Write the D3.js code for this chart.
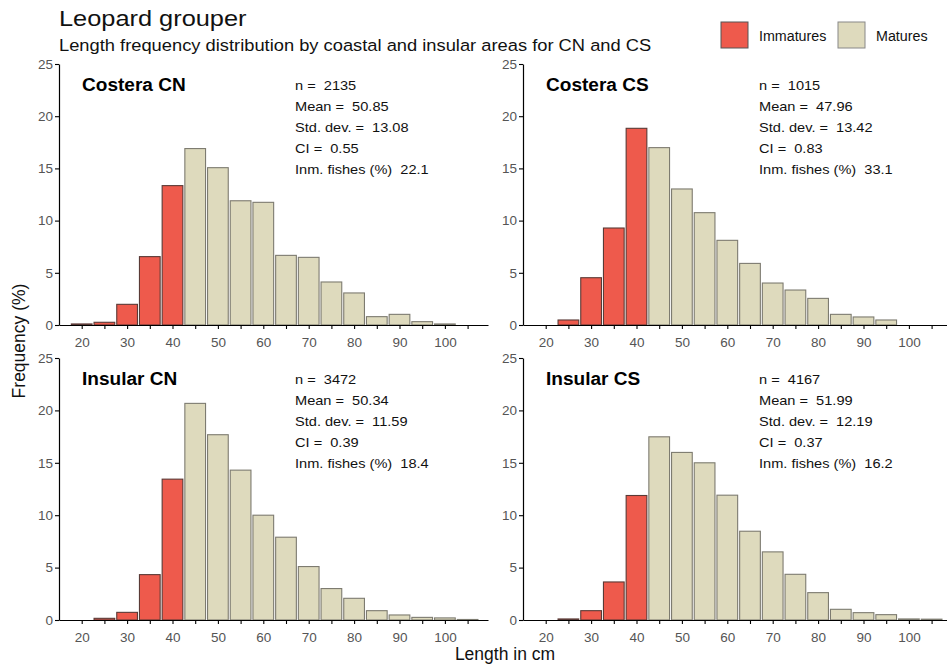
<!DOCTYPE html>
<html><head><meta charset="utf-8">
<script src="https://cdn.jsdelivr.net/npm/d3@7/dist/d3.min.js"></script>
<style>body{margin:0;background:#fff;} svg{display:block;font-family:"Liberation Sans",Arial,sans-serif;}</style>
</head><body>
<svg id="c" width="947" height="666"></svg>
<script>
const bins = [20,25,30,35,40,45,50,55,60,65,70,75,80,85,90,95,100,105];
const immatureBins = [20,25,30,35,40];
const costeraCN = [0.1,0.26,1.98,6.55,13.35,16.9,15.07,11.9,11.75,6.67,6.48,4.12,3.07,0.8,1.02,0.32,0.1,0];
const costeraCS = [0,0.48,4.53,9.29,18.84,16.99,13.03,10.76,8.11,5.9,4.02,3.35,2.55,1.02,0.77,0.48,0,0];
const insularCN = [0,0.16,0.73,4.33,13.44,20.67,17.68,14.3,10.0,7.9,5.1,3.0,2.07,0.89,0.48,0.25,0.2,0.05];
const insularCS = [0,0.1,0.89,3.63,11.88,17.48,15.99,15.0,11.91,8.47,6.5,4.36,2.61,1.02,0.7,0.51,0.1,0.08];
const panelNames = ["Costera CN","Costera CS","Insular CN","Insular CS"];
const nValues = ["2135","1015","3472","4167"];
const meanValues = ["50.85","47.96","50.34","51.99"];
const sdValues = ["13.08","13.42","11.59","12.19"];
const ciValues = ["0.55","0.83","0.39","0.37"];
const immPct = ["22.1","33.1","18.4","16.2"];
const xTickLabels = [20,30,40,50,60,70,80,90,100];
const xMinorTicks = [20,25,30,35,40,45,50,55,60,65,70,75,80,85,90,95,100,105];
const yTicks = [0,5,10,15,20,25];
const legendLabels = ["Immatures","Matures"];
const colImm = "#EE5A4C", colMat = "#DEDABD";

const series = [costeraCN, costeraCS, insularCN, insularCS];
const svg = d3.select("#c");

function txt(g, x, y, s, size, sx, extra) {
  const t = g.append("text").attr("transform", `translate(${x},${y}) scale(${sx},1)`)
    .attr("font-size", size).attr("fill", "#111").style("white-space","pre").text(s);
  if (extra) extra(t);
  return t;
}

// title
txt(svg, 59, 26, "Leopard grouper", 21.5, 1.18);
txt(svg, 59, 51, "Length frequency distribution by coastal and insular areas for CN and CS", 16.5, 1.11);

// legend
const lg = svg.append("g");
[[colImm,721,759,"#555"],[colMat,838,876,"#888"]].forEach((d,i)=>{
  lg.append("rect").attr("x",d[1]).attr("y",22).attr("width",27).attr("height",26).attr("fill",d[0]).attr("stroke",d[3]).attr("stroke-width",1);
  txt(lg, d[2], 40.5, legendLabels[i], 14, 1.02);
});

const panels = [
  {L:59, top:64, bottom:325, sx:295, ly:91},
  {L:523, top:64, bottom:325, sx:759, ly:91},
  {L:59, top:358, bottom:620, sx:295, ly:385},
  {L:523, top:358, bottom:620, sx:759, ly:385}
];
const pxPerCm = 4.54, panelW = 429;

panels.forEach((p,i)=>{
  const g = svg.append("g");
  const xStart = 20 - 22.7/pxPerCm;
  const x = d3.scaleLinear().domain([xStart, xStart + panelW/pxPerCm]).range([p.L, p.L+panelW]);
  const y = d3.scaleLinear().domain([0,25]).range([p.bottom, p.top]);
  const data = bins.map((b,j)=>({b, v:series[i][j], imm: immatureBins.includes(b)})).filter(d=>d.v>0);
  g.selectAll("rect.bar").data(data).enter().append("rect")
    .attr("x", d=>x(d.b-2.5)+1).attr("width", d=>x(d.b+2.5)-x(d.b-2.5)-2)
    .attr("y", d=>y(d.v)).attr("height", d=>y(0)-y(d.v))
    .attr("fill", d=>d.imm?colImm:colMat)
    .attr("stroke", d=>d.imm?"#5a3a36":"#7d7b70").attr("stroke-width",1.1);

  // x axis
  const xa = g.append("g").attr("transform",`translate(0,${p.bottom})`)
    .call(d3.axisBottom(x).tickValues(xMinorTicks).tickSize(4).tickSizeOuter(0)
      .tickFormat(d=>xTickLabels.includes(d)?d:""));
  xa.select(".domain").attr("stroke","#000").attr("stroke-width",1.2);
  xa.selectAll(".tick line").attr("stroke","#000").attr("stroke-width",1.1);
  xa.selectAll(".tick text").attr("font-size",13.5).attr("fill","#555").attr("dy","1.1em").attr("font-family","Liberation Sans, Arial, sans-serif");
  // y axis
  const ya = g.append("g").attr("transform",`translate(${p.L},0)`)
    .call(d3.axisLeft(y).tickValues(yTicks).tickSize(4).tickSizeOuter(0));
  ya.select(".domain").attr("stroke","#000").attr("stroke-width",1.2);
  ya.selectAll(".tick line").attr("stroke","#000").attr("stroke-width",1.1);
  ya.selectAll(".tick text").attr("font-size",13.5).attr("fill","#555").attr("x",-6).attr("font-family","Liberation Sans, Arial, sans-serif");

  // panel label
  txt(g, p.L+23, p.ly, panelNames[i], 18.5, 1.03, t=>t.attr("font-weight","bold").attr("fill","#000"));
  const lines = [`n =  ${nValues[i]}`,`Mean =  ${meanValues[i]}`,`Std. dev. =  ${sdValues[i]}`,`CI =  ${ciValues[i]}`,`Inm. fishes (%)  ${immPct[i]}`];
  lines.forEach((t,k)=>{
    txt(g, p.sx, p.ly-1+k*21, t, 13.5, 1.08);
  });
});

svg.append("text").attr("transform","translate(25,341) rotate(-90)").attr("text-anchor","middle").attr("font-size",17.5).attr("fill","#111").text("Frequency (%)");
svg.append("text").attr("x",505).attr("y",660).attr("text-anchor","middle").attr("font-size",17.5).attr("fill","#111").text("Length in cm");
</script>
</body></html>
